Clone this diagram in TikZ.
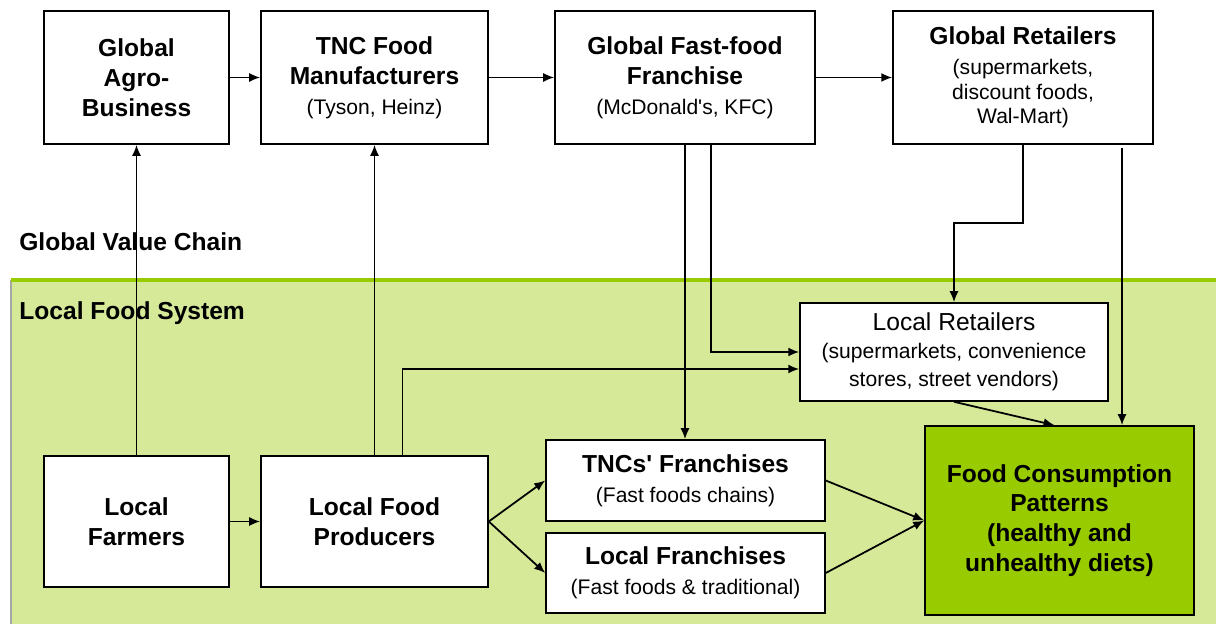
\documentclass[tikz,border=0pt]{standalone}
\usepackage{fontspec}
\setmainfont{Liberation Sans}
\usetikzlibrary{calc,arrows.meta}
\definecolor{lfsgreen}{RGB}{213,233,153}
\definecolor{leafgreen}{RGB}{153,204,0}
\def\hdtxt#1{{\fontsize{14}{17}\selectfont\bfseries #1}}
\def\smtxt#1{{\fontsize{12}{14}\selectfont #1}}
\tikzset{
	chainbox/.style={draw, line width=0.9pt, fill=white, align=center, inner sep=0pt, font=\fontsize{14}{17}\selectfont},
	flow/.style={line width=1pt, -{Latex[length=2.2mm,width=1.8mm]}},
	zonelabel/.style={anchor=west, inner sep=0pt, font=\fontsize{14}{17}\selectfont\bfseries}
}

\begin{document}
\begin{tikzpicture}[x=0.02cm, y=-0.02cm]
			%%%%% START %%%%%
			\useasboundingbox (0,0) rectangle (1216,624);
			
			% local food system zone
			\fill[lfsgreen] (11,280) rectangle (1216,624);
			\draw[gray!70, line width=0.6pt] (11,280) -- (11,624);
			\draw[leafgreen, line width=1.8pt] (11,280) -- (1216,280);
			
			\node[zonelabel] (gvc) at (19,242) {Global Value Chain};
			\node[zonelabel] (lfs) at (19,313) {Local Food System};
			
			% global boxes
			\node[chainbox, minimum width=3.7cm, minimum height=2.66cm] (agro) at (136.5,77.5)
				{\hdtxt{Global}\\ \hdtxt{Agro-}\\ \hdtxt{Business}};
			\node[chainbox, minimum width=4.54cm, minimum height=2.66cm] (tnc) at (374.5,77.5)
				{\hdtxt{TNC Food}\\ \hdtxt{Manufacturers}\\ \smtxt{(Tyson, Heinz)}};
			\node[chainbox, minimum width=5.2cm, minimum height=2.66cm] (gff) at (685,77.5)
				{\hdtxt{Global Fast-food}\\ \hdtxt{Franchise}\\ \smtxt{(McDonald\textquotesingle s, KFC)}};
			\node[chainbox, minimum width=5.2cm, minimum height=2.66cm] (gret) at (1023,77.5)
				{\hdtxt{Global Retailers}\\ \smtxt{(supermarkets,}\\[-3pt] \smtxt{discount foods,}\\[-3pt] \smtxt{Wal-Mart)}};
			
			% local boxes
			\node[chainbox, minimum width=3.7cm, minimum height=2.62cm] (farm) at (136.5,521.5)
				{\hdtxt{Local}\\ \hdtxt{Farmers}};
			\node[chainbox, minimum width=4.54cm, minimum height=2.62cm] (prod) at (374.5,521.5)
				{\hdtxt{Local Food}\\ \hdtxt{Producers}};
			\node[chainbox, minimum width=5.58cm, minimum height=1.62cm] (tncf) at (685.5,480.5)
				{\hdtxt{TNCs\textquotesingle\ Franchises}\\ \smtxt{(Fast foods chains)}};
			\node[chainbox, minimum width=5.58cm, minimum height=1.6cm] (locf) at (685.5,573)
				{\hdtxt{Local Franchises}\\ \smtxt{(Fast foods \& traditional)}};
			\node[chainbox, minimum width=6.16cm, minimum height=1.96cm] (lret) at (954,352)
				{Local Retailers\\[-1pt] \smtxt{(supermarkets, convenience}\\[-1pt] \smtxt{stores, street vendors)}};
			\node[chainbox, fill=leafgreen, minimum width=5.38cm, minimum height=3.78cm] (fcp) at (1059.5,520.5)
				{\hdtxt{Food Consumption}\\ \hdtxt{Patterns}\\ \hdtxt{(healthy and}\\ \hdtxt{unhealthy diets)}};
			
			% global chain
			\draw[flow] (agro) -- (tnc);
			\draw[flow] (tnc) -- (gff);
			\draw[flow] (gff) -- (gret);
			
			% up from the local side
			\draw[flow] (farm) -- (agro);
			\draw[flow] (prod) -- (tnc);
			\draw[flow] (farm) -- (prod);
			
			% down from the global side
			\draw[flow] (gff.south) -- (gff.south |- tncf.north);
			\coordinate (gff2) at ($(gff.south)+(26,0)$);
			\draw[flow] (gff2) |- (lret.west);
			\draw[flow] (gret.south) -- ++(0,78) -| (lret.north);
			\coordinate (gret2) at ($(gret.south)+(99,3)$);
			\draw[flow] (gret2) -- (gret2 |- fcp.north);
			
			\coordinate (prod2) at ($(prod.north)+(28,0)$);
			\draw[flow] (prod2) |- ($(lret.west)+(0,17)$);
			
			% into franchises and consumption
			\draw[flow] (prod.east) -- (tncf.west);
			\draw[flow] (prod.east) -- (locf.west);
			\draw[flow] (tncf.east) -- (fcp.west);
			\draw[flow] (locf.east) -- (fcp.west);
			\draw[flow] (lret.south) -- ($(fcp.north)+(-5,0)$);
			
			%%%%% END %%%%%
\end{tikzpicture}
\end{document}
